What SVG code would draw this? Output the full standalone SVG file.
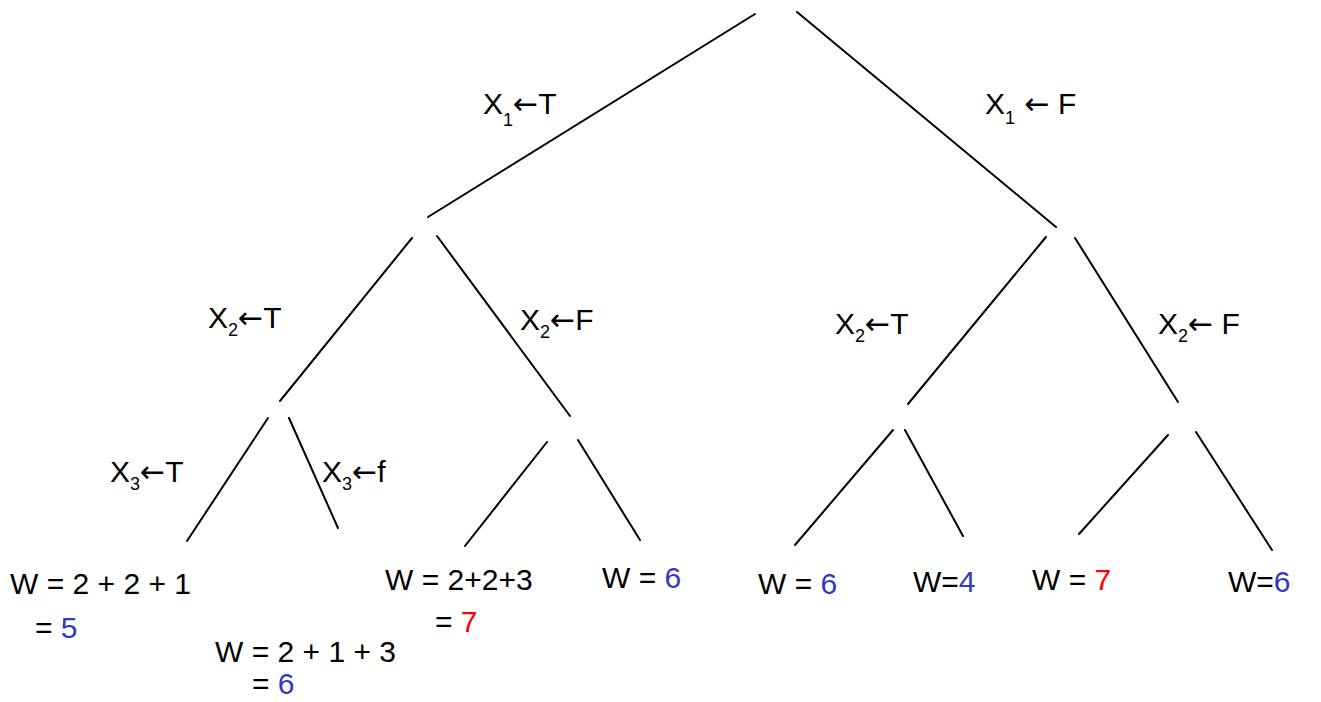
<svg xmlns="http://www.w3.org/2000/svg" width="1321" height="702" viewBox="0 0 1321 702">
<style>
.e{stroke:#000;stroke-width:2;fill:none;stroke-linecap:round}
text{font-family:"Liberation Sans","DejaVu Sans",sans-serif;font-size:30px;fill:#000}
.lb{font-size:30px}
.s{font-size:18px}
.a{font-family:"DejaVu Sans",sans-serif;font-size:30px}
.b{fill:#3535c8}
.r{fill:#ff0000}
</style>
<rect width="1321" height="702" fill="#fff"/>
<g id="connectors">
<line class="e" x1="755" y1="14" x2="428" y2="217"/>
<line class="e" x1="797" y1="12" x2="1056" y2="227"/>
<line class="e" x1="412" y1="238" x2="280" y2="401"/>
<line class="e" x1="437" y1="236" x2="570" y2="416"/>
<line class="e" x1="1046" y1="237" x2="908" y2="404"/>
<line class="e" x1="1075" y1="238" x2="1178" y2="402"/>
<line class="e" x1="268" y1="418" x2="187" y2="541"/>
<line class="e" x1="289" y1="418" x2="338" y2="528"/>
<line class="e" x1="547" y1="442" x2="465" y2="546"/>
<line class="e" x1="578" y1="440" x2="640" y2="540"/>
<line class="e" x1="893" y1="430" x2="795" y2="545"/>
<line class="e" x1="905" y1="430" x2="963" y2="536"/>
<line class="e" x1="1168" y1="435" x2="1079" y2="534"/>
<line class="e" x1="1196" y1="432" x2="1272" y2="550"/>
</g>
<g id="edge-labels">
<text class="lb" x="483" y="114">X<tspan class="s" dy="12">1</tspan><tspan class="a" dy="-12">←</tspan>T</text>
<text class="lb" x="985" y="114">X<tspan class="s" dy="10">1</tspan><tspan class="a" dy="-10"> ←</tspan> F</text>
<text class="lb" x="208" y="328">X<tspan class="s" dy="8">2</tspan><tspan class="a" dy="-8">←</tspan>T</text>
<text class="lb" x="520" y="330">X<tspan class="s" dy="8">2</tspan><tspan class="a" dy="-8">←</tspan>F</text>
<text class="lb" x="835" y="334">X<tspan class="s" dy="8">2</tspan><tspan class="a" dy="-8">←</tspan>T</text>
<text class="lb" x="1158" y="334">X<tspan class="s" dy="8">2</tspan><tspan class="a" dy="-8">←</tspan> F</text>
<text class="lb" x="110" y="482">X<tspan class="s" dy="8">3</tspan><tspan class="a" dy="-8">←</tspan>T</text>
<text class="lb" x="322" y="482">X<tspan class="s" dy="8">3</tspan><tspan class="a" dy="-8">←</tspan>f</text>
</g>
<g id="leaf1"><text x="10" y="594">W = 2 + 2 + 1</text><text x="35" y="638">= <tspan class="b">5</tspan></text></g>
<g id="leaf2"><text x="215" y="662">W = 2 + 1 + 3</text><text x="252" y="694">= <tspan class="b">6</tspan></text></g>
<g id="leaf3"><text x="385" y="590">W = 2+2+3</text><text x="435" y="632">= <tspan class="r">7</tspan></text></g>
<g id="leaf4"><text x="602" y="588">W = <tspan class="b">6</tspan></text></g>
<g id="leaf5"><text x="758" y="594">W = <tspan class="b">6</tspan></text></g>
<g id="leaf6"><text x="913" y="592">W=<tspan class="b">4</tspan></text></g>
<g id="leaf7"><text x="1032" y="590">W = <tspan class="r">7</tspan></text></g>
<g id="leaf8"><text x="1228" y="592">W=<tspan class="b">6</tspan></text></g>
</svg>
